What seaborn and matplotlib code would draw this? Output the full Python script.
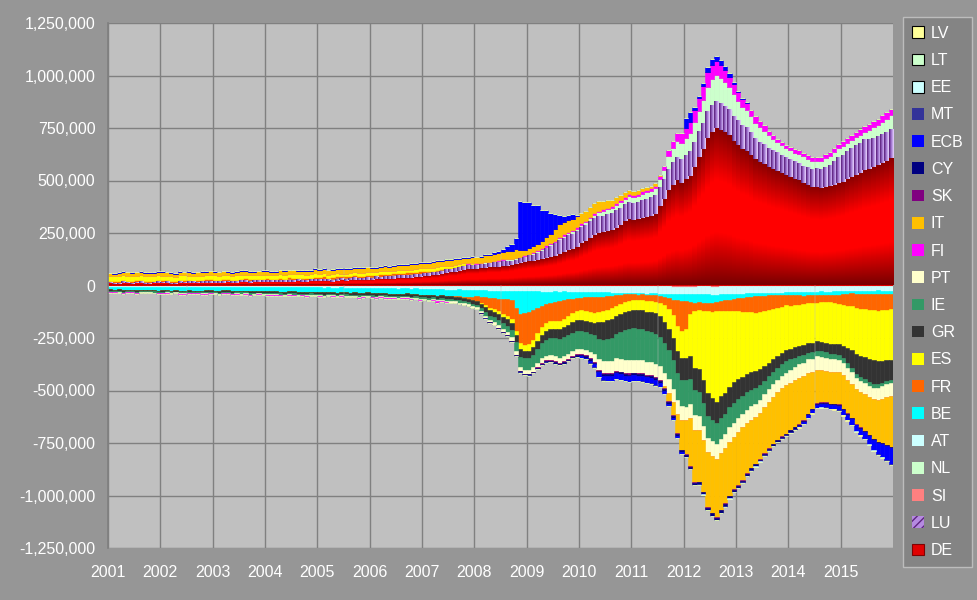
import numpy as np
import pandas as pd
import matplotlib
matplotlib.use("Agg")
import matplotlib.pyplot as plt
import seaborn as sns
from matplotlib.colors import LinearSegmentedColormap
from matplotlib.patches import Patch
from matplotlib.ticker import FuncFormatter

# Style: Excel-like grey chart
sns.set_theme(style="white")
plt.rcParams["font.family"] = ["Liberation Sans", "DejaVu Sans"]

# Monthly TARGET2 balances, EUR bn, Jan 2001 .. Dec 2015 (one row per year)
DE = [
    10, 9, 8, 10, 11, 9, 10, 12, 9, 8, 10, 11,
    12, 10, 8, 9, 11, 13, 12, 10, 11, 13, 12, 14,
    13, 12, 14, 15, 13, 14, 16, 15, 14, 16, 17, 15,
    16, 15, 17, 18, 16, 19, 18, 20, 19, 18, 21, 20,
    20, 22, 21, 19, 23, 24, 22, 25, 24, 26, 25, 27,
    28, 29, 30, 31, 32, 33, 34, 35, 36, 38, 40, 42,
    44, 46, 48, 52, 55, 58, 62, 66, 70, 74, 78, 80,
    80, 82, 84, 86, 88, 90, 92, 95, 98, 102, 105, 110,
    115, 118, 122, 126, 130, 136, 140, 150, 160, 168, 175, 185,
    200, 210, 225, 240, 250, 255, 260, 265, 275, 290, 305, 315,
    312, 316, 322, 326, 330, 340, 380, 410, 455, 480, 500, 490,
    505, 520, 565, 610, 650, 700, 730, 751, 740, 730, 715, 690,
    670, 650, 640, 620, 600, 590, 580, 565, 555, 545, 535, 525,
    515, 505, 500, 490, 480, 470, 468, 465, 470, 475, 480, 488,
    495, 505, 515, 525, 535, 550, 555, 565, 575, 585, 595, 605,
]
LU = [
    3, 4, 3, 5, 4, 3, 4, 5, 4, 3, 4, 5,
    4, 5, 4, 3, 5, 4, 6, 5, 4, 5, 6, 5,
    5, 6, 5, 4, 6, 5, 6, 7, 6, 5, 6, 7,
    6, 5, 7, 6, 7, 8, 6, 7, 8, 7, 6, 8,
    7, 8, 7, 9, 8, 7, 9, 8, 10, 9, 8, 10,
    9, 10, 9, 11, 10, 12, 11, 10, 12, 11, 13, 12,
    12, 13, 12, 14, 13, 15, 14, 16, 15, 17, 16, 18,
    18, 17, 19, 18, 20, 22, 21, 20, 19, 18, 20, 22,
    25, 28, 32, 38, 45, 52, 58, 63, 65, 68, 70, 72,
    74, 76, 78, 80, 78, 76, 78, 80, 82, 80, 78, 80,
    79, 80, 82, 84, 86, 88, 90, 95, 100, 105, 108, 110,
    112, 115, 118, 120, 122, 125, 127, 126, 124, 122, 120, 118,
    115, 112, 110, 105, 100, 95, 92, 90, 88, 86, 85, 85,
    84, 82, 80, 80, 82, 85, 87, 90, 95, 100, 110, 120,
    125, 130, 135, 140, 142, 143, 140, 138, 136, 135, 135, 135,
]
SI = [
    0, 0, 0, 0, 0, 0, 0, 0, 0, 0, 0, 0,
    0, 0, 0, 0, 0, 0, 0, 0, 0, 0, 0, 0,
    0, 0, 0, 0, 0, 0, 0, 0, 0, 0, 0, 0,
    0, 0, 0, 0, 0, 0, 0, 0, 0, 0, 0, 0,
    0, 0, 0, 0, 0, 0, 0, 0, 0, 0, 0, 0,
    0, 0, 0, 0, 0, 0, 0, 0, 0, 0, 0, 0,
    -1, -1, -2, -1, -2, -2, -1, -2, -2, -1, -2, -2,
    -2, -2, -3, -2, -3, -3, -2, -3, -3, -3, -4, -4,
    -4, -3, -4, -4, -3, -4, -4, -3, -3, -4, -3, -3,
    -3, -3, -2, -3, -3, -2, -3, -2, -3, -3, -2, -3,
    -3, -3, -2, -3, -3, -3, -4, -4, -4, -5, -5, -5,
    -5, -5, -5, -4, -4, -4, -5, -5, -4, -4, -4, -3,
    -3, -3, -3, -2, -2, -2, -2, -2, -2, -2, -2, -2,
    -2, -1, -2, -2, -1, -2, -2, -1, -2, -2, -1, -2,
    -2, -2, -1, -2, -2, -1, -2, -2, -1, -2, -2, -2,
]
NL = [
    2, 1, 2, 3, 2, 1, 2, 2, 3, 2, 1, 2,
    2, 3, 2, 1, 2, 2, 3, 2, 2, 1, 2, 3,
    2, 2, 3, 2, 1, 2, 2, 3, 2, 2, 3, 2,
    3, 2, 2, 3, 2, 2, 3, 2, 3, 3, 2, 3,
    3, 3, 2, 3, 3, 2, 3, 3, 4, 3, 3, 4,
    3, 4, 3, 3, 4, 3, 4, 4, 3, 4, 4, 3,
    3, 3, 4, 4, 5, 5, 4, 5, 6, 6, 5, 6,
    6, 5, 7, 6, 8, 7, 8, 9, 8, 10, 9, 8,
    8, 7, 9, 8, 10, 9, 10, 11, 12, 12, 13, 14,
    15, 16, 17, 18, 20, 22, 24, 25, 26, 27, 28, 30,
    30, 31, 32, 33, 34, 35, 38, 45, 60, 70, 80, 80,
    85, 90, 95, 100, 110, 120, 125, 125, 122, 118, 110, 105,
    95, 90, 85, 80, 75, 70, 65, 60, 55, 50, 48, 46,
    45, 46, 47, 45, 42, 40, 38, 38, 40, 42, 44, 45,
    45, 44, 42, 40, 40, 40, 45, 50, 55, 60, 65, 70,
]
AT = [
    -5, -6, -5, -7, -6, -5, -6, -7, -6, -5, -6, -7,
    -6, -5, -7, -6, -6, -7, -5, -6, -7, -6, -5, -6,
    -6, -7, -6, -5, -7, -6, -7, -6, -8, -7, -6, -7,
    -8, -7, -8, -9, -8, -7, -8, -9, -8, -9, -8, -9,
    -9, -10, -9, -11, -10, -9, -10, -11, -10, -12, -11, -10,
    -12, -13, -12, -14, -13, -14, -15, -14, -13, -15, -14, -16,
    -16, -17, -16, -18, -17, -18, -19, -18, -17, -19, -18, -20,
    -20, -21, -20, -22, -21, -22, -23, -22, -23, -24, -22, -23,
    -24, -25, -24, -25, -26, -25, -24, -26, -25, -27, -26, -28,
    -28, -27, -29, -30, -29, -31, -30, -32, -31, -33, -32, -34,
    -34, -35, -34, -36, -35, -35, -36, -35, -36, -37, -36, -36,
    -35, -35, -36, -36, -37, -37, -38, -38, -38, -37, -37, -37,
    -36, -36, -35, -35, -34, -34, -33, -33, -32, -32, -32, -31,
    -30, -30, -29, -29, -28, -28, -28, -27, -27, -27, -26, -26,
    -25, -25, -24, -24, -23, -23, -23, -22, -22, -22, -22, -22,
]
BE = [
    -14, -15, -13, -16, -14, -15, -16, -14, -15, -16, -15, -17,
    -16, -15, -17, -16, -18, -17, -16, -18, -17, -19, -18, -17,
    -18, -19, -17, -18, -19, -20, -18, -19, -20, -19, -21, -20,
    -20, -21, -19, -20, -22, -21, -20, -22, -21, -23, -22, -21,
    -22, -23, -21, -22, -24, -23, -22, -24, -23, -25, -24, -23,
    -24, -25, -23, -24, -26, -25, -24, -26, -25, -27, -26, -28,
    -27, -28, -27, -29, -28, -30, -29, -31, -32, -33, -34, -35,
    -30, -30, -32, -35, -35, -38, -40, -40, -45, -80, -110, -105,
    -100, -90, -80, -70, -60, -55, -50, -45, -40, -35, -33, -30,
    -28, -26, -25, -24, -22, -20, -18, -15, -12, -10, -8, -5,
    -5, -5, -4, -5, -6, -8, -10, -15, -20, -25, -30, -35,
    -35, -38, -40, -40, -40, -40, -38, -35, -32, -30, -28, -25,
    -22, -20, -18, -16, -15, -14, -13, -12, -12, -11, -12, -12,
    -14, -15, -16, -17, -16, -15, -16, -17, -16, -15, -16, -17,
    -15, -14, -13, -14, -15, -16, -15, -16, -17, -16, -17, -18,
]
FR = [
    8, 7, 9, 8, 6, 7, 8, 9, 7, 8, 6, 7,
    7, 8, 6, 7, 8, 9, 7, 6, 8, 7, 9, 8,
    8, 7, 9, 8, 7, 6, 8, 9, 7, 8, 7, 9,
    9, 8, 7, 9, 8, 10, 9, 8, 7, 9, 8, 10,
    9, 10, 8, 9, 11, 10, 9, 8, 10, 9, 11, 10,
    10, 9, 11, 10, 9, 11, 10, 12, 11, 10, 9, 11,
    8, 7, 6, 5, 4, 3, 2, -2, -4, -6, -9, -12,
    -20, -30, -40, -50, -55, -60, -70, -80, -90, -110, -140, -150,
    -150, -140, -120, -100, -90, -85, -90, -95, -90, -80, -70, -60,
    -60, -65, -70, -75, -70, -70, -65, -60, -50, -40, -35, -30,
    -27, -27, -28, -30, -30, -32, -35, -40, -50, -75, -120, -140,
    -130, -60, -40, -38, -40, -42, -45, -45, -48, -50, -52, -55,
    -60, -65, -70, -75, -78, -78, -75, -70, -65, -60, -55, -50,
    -50, -48, -45, -42, -40, -38, -35, -32, -32, -35, -40, -45,
    -50, -55, -60, -65, -70, -72, -75, -78, -80, -78, -75, -72,
]
ES = [
    20, 22, 21, 23, 22, 24, 23, 22, 21, 23, 22, 24,
    22, 21, 23, 20, 22, 21, 19, 20, 22, 21, 20, 19,
    20, 19, 18, 20, 19, 21, 20, 18, 19, 20, 18, 19,
    18, 19, 17, 18, 16, 17, 18, 16, 17, 15, 16, 17,
    15, 16, 14, 15, 16, 14, 13, 15, 14, 13, 14, 12,
    13, 12, 14, 13, 12, 11, 13, 12, 14, 13, 12, 14,
    15, 16, 15, 14, 15, 14, 13, 12, 10, 8, 5, 2,
    -2, -5, -8, -10, -12, -14, -15, -16, -18, -20, -28, -30,
    -32, -33, -34, -35, -36, -37, -38, -38, -40, -42, -44, -45,
    -46, -47, -48, -48, -50, -52, -50, -49, -48, -48, -47, -48,
    -48, -48, -49, -50, -52, -55, -60, -80, -95, -110, -120, -130,
    -140, -200, -270, -280, -330, -390, -410, -430, -405, -390, -360, -340,
    -325, -310, -295, -285, -278, -270, -260, -250, -240, -230, -220, -214,
    -205, -200, -195, -195, -190, -190, -185, -190, -195, -200, -195, -190,
    -195, -200, -210, -220, -225, -230, -235, -235, -238, -240, -240, -240,
]
GR = [
    -6, -5, -7, -6, -5, -6, -7, -6, -5, -6, -7, -6,
    -7, -6, -8, -7, -6, -7, -8, -7, -6, -7, -8, -7,
    -7, -8, -7, -6, -8, -7, -8, -7, -9, -8, -7, -8,
    -8, -9, -8, -7, -9, -8, -9, -8, -10, -9, -8, -9,
    -9, -10, -9, -8, -10, -9, -10, -9, -11, -10, -9, -10,
    -10, -11, -10, -9, -11, -10, -11, -10, -12, -11, -10, -12,
    -12, -13, -12, -14, -13, -14, -15, -14, -16, -15, -17, -18,
    -18, -20, -22, -24, -25, -26, -28, -30, -32, -34, -35, -35,
    -36, -38, -40, -42, -44, -45, -46, -47, -48, -48, -49, -50,
    -50, -52, -55, -58, -80, -85, -88, -90, -88, -86, -87, -87,
    -87, -88, -90, -92, -95, -98, -100, -102, -104, -105, -106, -105,
    -107, -107, -108, -108, -108, -108, -106, -104, -102, -100, -99, -98,
    -95, -92, -88, -85, -80, -75, -70, -65, -60, -56, -53, -51,
    -50, -49, -48, -47, -46, -45, -44, -44, -45, -46, -47, -49,
    -60, -75, -85, -95, -100, -105, -110, -115, -112, -105, -100, -95,
]
IE = [
    -5, -4, -6, -5, -4, -5, -6, -5, -4, -5, -6, -5,
    -5, -6, -5, -4, -6, -5, -6, -5, -4, -5, -6, -5,
    -5, -6, -5, -6, -5, -4, -6, -5, -6, -5, -4, -6,
    -6, -5, -6, -7, -5, -6, -7, -6, -5, -6, -7, -6,
    -6, -7, -6, -5, -7, -6, -7, -6, -5, -7, -6, -7,
    -7, -6, -7, -8, -6, -7, -8, -7, -6, -7, -8, -7,
    -7, -8, -7, -9, -8, -9, -10, -9, -10, -11, -10, -12,
    -12, -15, -18, -20, -22, -25, -28, -30, -35, -40, -50, -55,
    -55, -60, -65, -70, -75, -80, -85, -90, -90, -88, -85, -85,
    -85, -85, -88, -90, -95, -100, -105, -110, -115, -130, -145, -150,
    -151, -150, -148, -146, -144, -142, -140, -140, -138, -135, -130, -125,
    -125, -120, -120, -115, -110, -105, -100, -100, -100, -95, -95, -95,
    -90, -85, -82, -78, -75, -70, -65, -62, -60, -58, -56, -55,
    -50, -45, -40, -35, -30, -30, -28, -28, -26, -25, -25, -25,
    -22, -22, -20, -20, -18, -18, -18, -18, -16, -16, -15, -15,
]
PT = [
    -3, -2, -3, -4, -3, -2, -3, -3, -4, -3, -2, -3,
    -3, -3, -2, -3, -4, -3, -3, -2, -3, -4, -3, -3,
    -3, -4, -3, -3, -2, -3, -4, -3, -3, -4, -3, -2,
    -3, -3, -4, -3, -4, -3, -3, -4, -3, -4, -4, -3,
    -4, -3, -4, -4, -3, -4, -4, -3, -4, -5, -4, -4,
    -4, -5, -4, -4, -5, -4, -5, -4, -5, -5, -4, -5,
    -5, -5, -6, -5, -6, -6, -7, -6, -7, -7, -8, -8,
    -8, -10, -12, -13, -14, -15, -16, -17, -18, -19, -20, -20,
    -20, -21, -22, -22, -23, -23, -24, -24, -25, -25, -25, -26,
    -26, -28, -30, -35, -55, -58, -60, -60, -60, -60, -62, -62,
    -60, -61, -62, -63, -63, -64, -64, -64, -65, -65, -65, -65,
    -65, -66, -67, -68, -68, -69, -70, -70, -70, -70, -70, -68,
    -66, -65, -64, -63, -62, -62, -61, -60, -60, -60, -60, -60,
    -62, -63, -64, -65, -65, -64, -63, -63, -63, -62, -62, -60,
    -58, -56, -55, -54, -53, -52, -52, -55, -58, -60, -62, -64,
]
FI = [
    -3, -2, -3, -4, -3, -3, -2, -3, -4, -3, -2, -3,
    -3, -4, -3, -2, -3, -4, -3, -3, -2, -3, -4, -3,
    -3, -3, -4, -3, -2, -3, -4, -3, -3, -2, -3, -4,
    -4, -3, -3, -4, -3, -4, -3, -2, -3, -4, -3, -3,
    -3, -4, -3, -4, -3, -3, -4, -3, -4, -3, -4, -3,
    -4, -3, -4, -3, -4, -4, -3, -4, -3, -4, -3, -4,
    -3, -4, -3, -5, -4, -3, -2, -3, -2, -1, 1, 2,
    2, 3, 2, 4, 3, 2, 3, 4, 3, 2, 3, 4,
    4, 5, 4, 5, 6, 5, 6, 5, 6, 7, 6, 7,
    7, 6, 8, 7, 8, 9, 8, 9, 10, 9, 10, 11,
    10, 11, 12, 11, 12, 13, 15, 20, 30, 35, 40, 45,
    50, 55, 60, 65, 70, 72, 70, 68, 62, 55, 50, 45,
    40, 38, 35, 32, 30, 28, 25, 22, 20, 18, 16, 15,
    15, 15, 16, 16, 17, 18, 18, 19, 20, 20, 21, 22,
    22, 23, 24, 25, 26, 26, 27, 28, 29, 30, 31, 32,
]
IT = [
    15, 14, 16, 15, 17, 16, 15, 14, 16, 17, 15, 16,
    16, 15, 17, 16, 15, 14, 16, 17, 15, 16, 17, 18,
    17, 16, 18, 17, 15, 16, 17, 18, 16, 15, 17, 18,
    18, 17, 16, 18, 19, 17, 18, 16, 17, 19, 18, 20,
    19, 18, 20, 21, 19, 20, 22, 21, 20, 22, 21, 23,
    22, 21, 23, 24, 22, 23, 25, 24, 23, 25, 26, 24,
    25, 24, 26, 27, 25, 26, 28, 27, 26, 28, 27, 29,
    28, 30, 32, 31, 33, 35, 34, 36, 38, 40, 30, 25,
    25, 28, 32, 36, 40, 45, 55, 62, 60, 58, 55, 52,
    50, 48, 46, 48, 45, 40, 35, 30, 28, 25, 22, 20,
    18, 16, 15, 14, 12, 10, 5, -10, -37, -60, -90, -140,
    -160, -230, -250, -245, -245, -260, -270, -275, -270, -262, -255, -250,
    -255, -250, -240, -230, -225, -222, -220, -220, -222, -225, -228, -230,
    -225, -222, -220, -210, -195, -175, -160, -155, -150, -150, -150, -152,
    -160, -160, -162, -165, -170, -175, -180, -190, -200, -210, -225, -240,
]
SK = [
    0, 0, 0, 0, 0, 0, 0, 0, 0, 0, 0, 0,
    0, 0, 0, 0, 0, 0, 0, 0, 0, 0, 0, 0,
    0, 0, 0, 0, 0, 0, 0, 0, 0, 0, 0, 0,
    0, 0, 0, 0, 0, 0, 0, 0, 0, 0, 0, 0,
    0, 0, 0, 0, 0, 0, 0, 0, 0, 0, 0, 0,
    0, 0, 0, 0, 0, 0, 0, 0, 0, 0, 0, 0,
    0, 0, 0, 0, 0, 0, 0, 0, 0, 0, 0, 0,
    0, 0, 0, 0, 0, 0, 0, 0, 0, 0, 0, 0,
    -2, -3, -3, -4, -4, -5, -5, -4, -5, -5, -4, -5,
    -5, -4, -5, -5, -4, -5, -4, -4, -5, -4, -4, -5,
    -4, -4, -5, -4, -4, -5, -4, -3, -4, -3, -3, -3,
    -3, -2, -3, -3, -2, -3, -3, -3, -2, -3, -3, -2,
    -2, -3, -2, -2, -3, -2, -2, -3, -2, -2, -3, -2,
    -2, -2, -3, -2, -2, -3, -2, -2, -3, -2, -2, -3,
    -3, -2, -2, -3, -2, -2, -3, -2, -2, -3, -2, -3,
]
CY = [
    0, 0, 0, 0, 0, 0, 0, 0, 0, 0, 0, 0,
    0, 0, 0, 0, 0, 0, 0, 0, 0, 0, 0, 0,
    0, 0, 0, 0, 0, 0, 0, 0, 0, 0, 0, 0,
    0, 0, 0, 0, 0, 0, 0, 0, 0, 0, 0, 0,
    0, 0, 0, 0, 0, 0, 0, 0, 0, 0, 0, 0,
    0, 0, 0, 0, 0, 0, 0, 0, 0, 0, 0, 0,
    0, 0, 0, 0, 0, 0, 0, 0, 0, 0, 0, 0,
    -1, -1, -2, -2, -2, -3, -3, -3, -4, -4, -5, -5,
    -5, -5, -6, -6, -5, -6, -6, -6, -7, -6, -7, -7,
    -7, -6, -7, -7, -6, -7, -7, -8, -7, -8, -8, -8,
    -8, -8, -9, -8, -8, -9, -9, -8, -9, -9, -10, -10,
    -10, -10, -9, -10, -10, -11, -11, -10, -10, -11, -10, -10,
    -10, -9, -9, -9, -8, -8, -8, -8, -7, -7, -7, -7,
    -7, -6, -6, -6, -6, -5, -5, -5, -5, -5, -4, -4,
    -4, -4, -4, -4, -3, -3, -3, -3, -3, -3, -3, -3,
]
ECB = [
    3, 4, 5, 4, 3, 4, 3, 4, 5, 3, 4, 3,
    4, 3, 4, 5, 4, 3, 4, 3, 4, 4, 3, 4,
    3, 4, 4, 3, 5, 4, 3, 4, 4, 5, 3, 4,
    4, 3, 5, 4, 4, 3, 4, 5, 3, 4, 4, 3,
    4, 5, 3, 4, 4, 5, 4, 3, 4, 5, 4, 4,
    5, 4, 4, 5, 3, 4, 5, 4, 4, 5, 4, 5,
    4, 5, 4, 4, 5, 4, 5, 4, 5, 4, 5, 4,
    4, 5, 5, 6, 8, 10, 15, 25, 30, 55, 235, 228,
    220, 197, 184, 147, 130, 98, 70, 45, 30, 25, 20, 5,
    -5, -8, -12, -15, -20, -22, -25, -25, -25, -26, -26, -27,
    -27, -27, -26, -25, -25, -25, -20, -15, -12, -10, -10, -8,
    45, 48, 10, 8, 10, 22, 25, 25, 25, 20, 15, 10,
    5, 3, 2, 1, 0, 0, 0, 0, 0, 0, 0, 0,
    -2, -4, -6, -8, -10, -12, -14, -15, -16, -18, -20, -22,
    -22, -24, -26, -28, -30, -32, -40, -48, -55, -62, -70, -78,
]
MT = [
    0, 0, 0, 0, 0, 0, 0, 0, 0, 0, 0, 0,
    0, 0, 0, 0, 0, 0, 0, 0, 0, 0, 0, 0,
    0, 0, 0, 0, 0, 0, 0, 0, 0, 0, 0, 0,
    0, 0, 0, 0, 0, 0, 0, 0, 0, 0, 0, 0,
    0, 0, 0, 0, 0, 0, 0, 0, 0, 0, 0, 0,
    0, 0, 0, 0, 0, 0, 0, 0, 0, 0, 0, 0,
    0, 0, 0, 0, 0, 0, 0, 0, 0, 0, 0, 0,
    0, 0, -1, -1, -1, -1, -1, -1, -1, -1, -1, -1,
    -1, -1, -1, -2, -1, -1, -1, -1, -2, -1, -1, -1,
    -1, -1, -1, -1, -1, -2, -1, -1, -1, -1, -1, -1,
    -1, -1, -1, -1, -2, -1, -1, -1, -1, -1, -1, -1,
    -1, -1, -1, -1, -1, -1, -1, -1, -1, -1, -1, -1,
    -1, -1, -1, -1, -1, -1, -1, -1, -1, -1, -1, -1,
    -1, -1, -1, -1, -1, -1, -1, -1, -1, -1, -1, -1,
    -1, -1, -1, -1, -1, -1, -1, -1, -1, -1, -1, -1,
]
EE = [
    0, 0, 0, 0, 0, 0, 0, 0, 0, 0, 0, 0,
    0, 0, 0, 0, 0, 0, 0, 0, 0, 0, 0, 0,
    0, 0, 0, 0, 0, 0, 0, 0, 0, 0, 0, 0,
    0, 0, 0, 0, 0, 0, 0, 0, 0, 0, 0, 0,
    0, 0, 0, 0, 0, 0, 0, 0, 0, 0, 0, 0,
    0, 0, 0, 0, 0, 0, 0, 0, 0, 0, 0, 0,
    0, 0, 0, 0, 0, 0, 0, 0, 0, 0, 0, 0,
    0, 0, 0, 0, 0, 0, 0, 0, 0, 0, 0, 0,
    0, 0, 0, 0, 0, 0, 0, 0, 0, 0, 0, 0,
    0, 0, 0, 0, 0, 0, 0, 0, 0, 0, 0, 0,
    0, 0, -1, -1, -1, -1, -1, -1, -1, -1, -1, -1,
    -1, -1, -1, -1, -1, -1, -1, -1, -1, -1, -1, -1,
    -1, -1, -1, -1, -1, -1, -1, -1, -1, -1, -1, -1,
    -1, -1, -1, -1, -1, -1, -1, -1, -1, -1, -1, -1,
    -1, -1, -1, -1, -1, -1, -1, -1, -1, -1, -1, -1,
]
LT = [
    0, 0, 0, 0, 0, 0, 0, 0, 0, 0, 0, 0,
    0, 0, 0, 0, 0, 0, 0, 0, 0, 0, 0, 0,
    0, 0, 0, 0, 0, 0, 0, 0, 0, 0, 0, 0,
    0, 0, 0, 0, 0, 0, 0, 0, 0, 0, 0, 0,
    0, 0, 0, 0, 0, 0, 0, 0, 0, 0, 0, 0,
    0, 0, 0, 0, 0, 0, 0, 0, 0, 0, 0, 0,
    0, 0, 0, 0, 0, 0, 0, 0, 0, 0, 0, 0,
    0, 0, 0, 0, 0, 0, 0, 0, 0, 0, 0, 0,
    0, 0, 0, 0, 0, 0, 0, 0, 0, 0, 0, 0,
    0, 0, 0, 0, 0, 0, 0, 0, 0, 0, 0, 0,
    0, 0, 0, 0, 0, 0, 0, 0, 0, 0, 0, 0,
    0, 0, 0, 0, 0, 0, 0, 0, 0, 0, 0, 0,
    0, 0, 0, 0, 0, 0, 0, 0, 0, 0, 0, 0,
    0, 0, 0, 0, 0, 0, 0, 0, 0, 0, 0, 0,
    -1, -1, -1, -1, -1, -1, -1, -1, -1, -1, -1, -1,
]
LV = [
    0, 0, 0, 0, 0, 0, 0, 0, 0, 0, 0, 0,
    0, 0, 0, 0, 0, 0, 0, 0, 0, 0, 0, 0,
    0, 0, 0, 0, 0, 0, 0, 0, 0, 0, 0, 0,
    0, 0, 0, 0, 0, 0, 0, 0, 0, 0, 0, 0,
    0, 0, 0, 0, 0, 0, 0, 0, 0, 0, 0, 0,
    0, 0, 0, 0, 0, 0, 0, 0, 0, 0, 0, 0,
    0, 0, 0, 0, 0, 0, 0, 0, 0, 0, 0, 0,
    0, 0, 0, 0, 0, 0, 0, 0, 0, 0, 0, 0,
    0, 0, 0, 0, 0, 0, 0, 0, 0, 0, 0, 0,
    0, 0, 0, 0, 0, 0, 0, 0, 0, 0, 0, 0,
    0, 0, 0, 0, 0, 0, 0, 0, 0, 0, 0, 0,
    0, 0, 0, 0, 0, 0, 0, 0, 0, 0, 0, 0,
    0, 0, 0, 0, 0, 0, 0, 0, 0, 0, 0, 0,
    -1, -1, -1, -1, -1, -1, -1, -1, -1, -1, -1, -1,
    -1, -1, -1, -1, -1, -1, -1, -1, -1, -1, -1, -1,
]

# stacking order, bottom (next to zero) to top
STACK_ORDER = ["DE", "LU", "SI", "NL", "AT", "BE", "FR", "ES", "GR", "IE",
               "PT", "FI", "IT", "SK", "CY", "ECB", "MT", "EE", "LT", "LV"]
SERIES = {"DE": DE, "LU": LU, "SI": SI, "NL": NL, "AT": AT, "BE": BE, "FR": FR,
          "ES": ES, "GR": GR, "IE": IE, "PT": PT, "FI": FI, "IT": IT, "SK": SK,
          "CY": CY, "ECB": ECB, "MT": MT, "EE": EE, "LT": LT, "LV": LV}
COLORS = {"DE": "#E00000", "LU": "#B58AE0", "SI": "#FF8080", "NL": "#CCFFCC",
          "AT": "#CCFFFF", "BE": "#00FFFF", "FR": "#FF6600", "ES": "#FFFF00",
          "GR": "#333333", "IE": "#339966", "PT": "#FFFFCC", "FI": "#FF00FF",
          "IT": "#FFC000", "SK": "#800080", "CY": "#000080", "ECB": "#0000FF",
          "MT": "#333399", "EE": "#CCFFFF", "LT": "#CCFFCC", "LV": "#FFFF99"}
BOXED = {"EE", "LT", "LV"}

months = pd.date_range("2001-01-01", periods=180, freq="MS")
df = pd.DataFrame({k: np.array(v, dtype=float) * 1000 for k, v in SERIES.items()})
df["x"] = months.year + (months.month - 1) / 12.0

BG = "#969696"
PLOT_BG = "#C0C0C0"
GRID = "#808080"

fig = plt.figure(figsize=(9.77, 6.0), dpi=100, facecolor=BG)
ax = fig.add_axes([108 / 977, 52 / 600, 785 / 977, 525 / 600])
ax.set_facecolor(PLOT_BG)

red_cmap = LinearSegmentedColormap.from_list("de", ["#7A0000", "#FF0000", "#FF0000", "#8A0000"])
lu_cmap = LinearSegmentedColormap.from_list("lu", ["#5E2480", "#A57AD6", "#E2CCFA"])
vgrad = np.linspace(0, 1, 64).reshape(-1, 1)
hgrad = np.linspace(0, 1, 8).reshape(1, -1)

w = 1 / 12
pos_base = np.zeros(len(df))
neg_base = np.zeros(len(df))
for name in STACK_ORDER:
    v = df[name].values
    pos = np.clip(v, 0, None)
    neg = np.clip(v, None, 0)
    c = COLORS[name]
    for part, base in ((pos, pos_base), (neg, neg_base)):
        bars = ax.bar(df["x"], part, width=w, bottom=base, align="edge",
                      color=c, edgecolor=c, linewidth=0.4, zorder=2)
        if name in ("DE", "LU"):
            cmap = red_cmap if name == "DE" else lu_cmap
            grad = vgrad if name == "DE" else hgrad
            for p in bars.patches:
                h = p.get_height()
                if h == 0:
                    continue
                x0, y0 = p.get_x(), p.get_y()
                g = grad if h > 0 or name == "LU" else grad[::-1]
                ax.imshow(g, extent=(x0, x0 + p.get_width(), y0, y0 + h),
                          origin="lower", aspect="auto", cmap=cmap,
                          interpolation="bilinear", zorder=2.1)
    pos_base = pos_base + pos
    neg_base = neg_base + neg

# axes styling
ax.set_xlim(2001, 2016)
ax.set_ylim(-1250000, 1250000)
ax.set_xticks(range(2001, 2016))
ax.set_yticks(np.arange(-1250000, 1250001, 250000))
ax.yaxis.set_major_formatter(FuncFormatter(lambda v, p: f"{v:,.0f}"))
ax.set_axisbelow(True)
ax.grid(True, color=GRID, linewidth=1.0)
for s in ax.spines.values():
    s.set_visible(False)
ax.spines["left"].set_visible(True)
ax.spines["left"].set_color(GRID)
ax.tick_params(axis="both", colors=GRID, labelcolor="white", labelsize=11.5,
               length=5, width=1, direction="out")
ax.tick_params(axis="y", pad=4)
ax.tick_params(axis="x", pad=7)

# legend, top entry first (reverse of stacking)
handles = []
for name in STACK_ORDER[::-1]:
    if name == "LU":
        h = Patch(facecolor="#B58AE0", edgecolor="#5E2480", hatch="////", linewidth=0)
    elif name == "DE":
        h = Patch(facecolor="#E00000", edgecolor="#800000", linewidth=0.8)
    elif name in BOXED:
        h = Patch(facecolor=COLORS[name], edgecolor="black", linewidth=0.8)
    else:
        h = Patch(facecolor=COLORS[name], edgecolor=COLORS[name], linewidth=0)
    handles.append(h)
leg = fig.legend(handles, STACK_ORDER[::-1], loc="upper left",
                 bbox_to_anchor=(903 / 977, 1 - 17 / 600), bbox_transform=fig.transFigure,
                 frameon=True, fancybox=False, facecolor="#808080", edgecolor="#C8C8C8",
                 labelcolor="white", fontsize=11.5, handlelength=0.75, handleheight=0.75,
                 handletextpad=0.45, labelspacing=0.765, borderpad=0.55, borderaxespad=0)
leg.get_frame().set_linewidth(1.0)

fig.savefig("out.png", dpi=100, facecolor=BG)
